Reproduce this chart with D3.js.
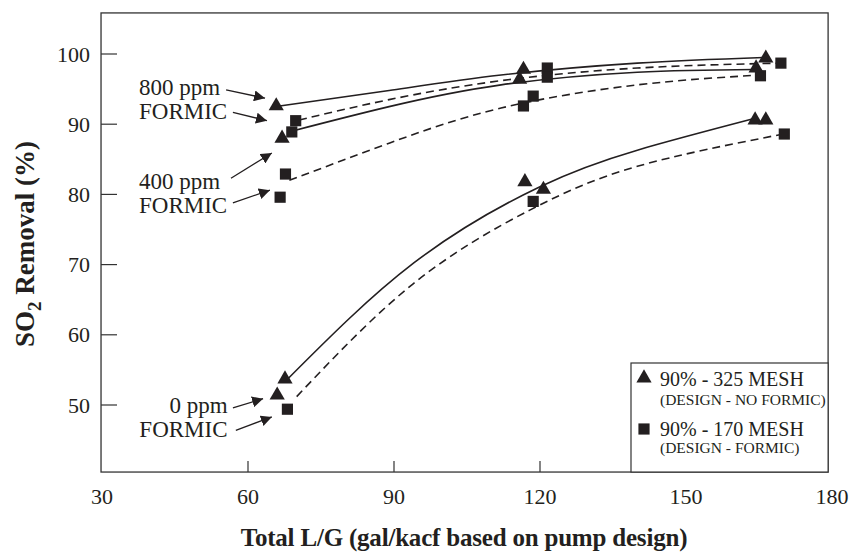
<!DOCTYPE html>
<html>
<head>
<meta charset="utf-8">
<script src="https://cdn.jsdelivr.net/npm/d3@7"></script>
<style>
  html, body { margin: 0; padding: 0; background: #fff; }
  svg text { font-family: "Liberation Serif", "DejaVu Serif", serif; fill: #231f20; }
</style>
</head>
<body>
<div id="chart"></div>
<script>
// SO2 removal vs total L/G - two mesh designs, three formic acid levels

const xTicks = [30, 60, 90, 120, 150, 180];
const yTicks = [50, 60, 70, 80, 90, 100];

// measured points, 90% - 325 MESH (triangles)
const triX = [65.8, 67.0, 67.6, 66.0, 116.6, 115.8, 116.9, 120.7, 166.4, 164.4, 164.2, 166.4];
const triY = [92.6, 88.0, 53.7, 51.4, 97.8, 96.4, 81.8, 80.7, 99.4, 98.0, 90.6, 90.6];

// measured points, 90% - 170 MESH (squares)
const sqX = [69.8, 69.0, 67.7, 66.6, 68.1, 121.5, 121.5, 118.6, 116.6, 118.6, 169.5, 165.3, 170.2];
const sqY = [90.5, 88.9, 82.9, 79.6, 49.4, 98.0, 96.7, 94.0, 92.6, 79.0, 98.7, 96.9, 88.6];

// fitted curves (solid = triangles, dashed = squares)
const fit800TriX = [66.5, 89, 112, 140, 166];
const fit800TriY = [92.6, 94.8, 97.0, 98.7, 99.5];
const fit800SqX = [70.5, 89, 112, 140, 169.5];
const fit800SqY = [90.6, 93.5, 96.2, 98.0, 98.7];
const fit400TriX = [69.5, 89, 112, 140, 164];
const fit400TriY = [89.1, 92.5, 95.6, 97.4, 97.8];
const fit400SqX = [68.5, 89, 112, 140, 165];
const fit400SqY = [82.0, 87.3, 92.3, 95.6, 97.0];
const fit0TriX = [68, 94, 120, 140, 164];
const fit0TriY = [53.6, 70.2, 81.1, 86.3, 90.8];
const fit0SqX = [70, 94, 118, 140, 170];
const fit0SqY = [51.2, 67.3, 77.8, 84.0, 88.6];

const legendMain = ["90% - 325 MESH", "90% - 170 MESH"];
const legendSub = ["(DESIGN - NO FORMIC)", "(DESIGN - FORMIC)"];

const labelLines = [["800 ppm", "FORMIC"], ["400 ppm", "FORMIC"], ["0 ppm", "FORMIC"]];

const width = 852, height = 553;
const ink = "#231f20";

const svg = d3.select("#chart").append("svg")
    .attr("width", width)
    .attr("height", height)
    .attr("viewBox", `0 0 ${width} ${height}`);

const x = d3.scaleLinear().domain([30, 180]).range([102, 832]);
const y = d3.scaleLinear().domain([50, 100]).range([405, 54]);

// frame limits in data units
const xLo = 29.8, xHi = 179.2, yLo = 40.45, yHi = 105.85;

svg.append("rect")
    .attr("x", x(xLo)).attr("y", y(yHi))
    .attr("width", x(xHi) - x(xLo)).attr("height", y(yLo) - y(yHi))
    .attr("fill", "none").attr("stroke", "#333").attr("stroke-width", 1.3);

// inward ticks
svg.append("g").selectAll("line")
    .data(xTicks.filter(d => d > 30 && d < xHi))
    .join("line")
    .attr("x1", d => x(d)).attr("x2", d => x(d))
    .attr("y1", y(yLo)).attr("y2", y(yLo) - 11)
    .attr("stroke", "#333").attr("stroke-width", 1.2);

svg.append("g").selectAll("line")
    .data(yTicks)
    .join("line")
    .attr("x1", x(xLo)).attr("x2", x(xLo) + 16)
    .attr("y1", d => y(d)).attr("y2", d => y(d))
    .attr("stroke", "#333").attr("stroke-width", 1.2);

svg.append("g").selectAll("text")
    .data(xTicks)
    .join("text")
    .attr("x", d => x(d))
    .attr("y", 504)
    .attr("text-anchor", "middle")
    .style("font-size", "22px")
    .text(d => d);

svg.append("g").selectAll("text")
    .data(yTicks)
    .join("text")
    .attr("x", 90)
    .attr("y", d => y(d) + 7.5)
    .attr("text-anchor", "end")
    .style("font-size", "22px")
    .text(d => d);

// axis titles
svg.append("text")
    .attr("x", 464).attr("y", 546)
    .attr("text-anchor", "middle")
    .style("font-size", "25px").style("font-weight", "bold")
    .style("letter-spacing", "-0.2px")
    .text("Total L/G (gal/kacf based on pump design)");

const yTitle = svg.append("text")
    .attr("transform", "translate(34,244) rotate(-90)")
    .attr("text-anchor", "middle")
    .style("font-size", "27px").style("font-weight", "bold");
yTitle.append("tspan").text("SO");
yTitle.append("tspan").attr("dy", 7).style("font-size", "19px").text("2");
yTitle.append("tspan").attr("dy", -7).text(" Removal (%)");

// fitted curves
const line = d3.line().x(d => x(d[0])).y(d => y(d[1])).curve(d3.curveNatural);
const fits = [
    { xs: fit800TriX, ys: fit800TriY, dash: null },
    { xs: fit800SqX, ys: fit800SqY, dash: "8,5" },
    { xs: fit400TriX, ys: fit400TriY, dash: null },
    { xs: fit400SqX, ys: fit400SqY, dash: "8,5" },
    { xs: fit0TriX, ys: fit0TriY, dash: null },
    { xs: fit0SqX, ys: fit0SqY, dash: "8,5" }
];
svg.append("g").selectAll("path")
    .data(fits)
    .join("path")
    .attr("d", f => line(d3.zip(f.xs, f.ys)))
    .attr("fill", "none")
    .attr("stroke", ink)
    .attr("stroke-width", 1.6)
    .attr("stroke-dasharray", f => f.dash);

// markers
const tri = d3.symbol().type(d3.symbolTriangle).size(100);
const sq = d3.symbol().type(d3.symbolSquare).size(125);

svg.append("g").selectAll("path")
    .data(d3.zip(sqX, sqY))
    .join("path")
    .attr("transform", d => `translate(${x(d[0])},${y(d[1])})`)
    .attr("d", sq)
    .attr("fill", ink);

svg.append("g").selectAll("path")
    .data(d3.zip(triX, triY))
    .join("path")
    .attr("transform", d => `translate(${x(d[0])},${y(d[1])})`)
    .attr("d", tri)
    .attr("fill", ink);

// annotations: text anchor in data units, arrows [from, to]
svg.append("defs").append("marker")
    .attr("id", "head")
    .attr("viewBox", "0 0 10 10")
    .attr("refX", 10).attr("refY", 5)
    .attr("markerWidth", 11).attr("markerHeight", 11)
    .attr("markerUnits", "userSpaceOnUse")
    .attr("orient", "auto")
    .append("path").attr("d", "M0,0 L10,5 L0,10 z").attr("fill", ink);

const notes = [
    { at: [37.6, 94.2], anchor: "start", arrows: [[[55.5, 94.9], [63.5, 93.7]], [[56.9, 91.7], [63.9, 90.5]]] },
    { at: [37.6, 80.8], anchor: "start", arrows: [[[56.5, 82.3], [64.9, 85.9]], [[56.9, 78.8], [64.5, 80.6]]] }
];
const notesEnd = { at: [55.8, 48.8], arrows: [[[56.9, 49.6], [63.1, 50.9]], [[57.5, 46.4], [64.9, 48.3]]] };

notes.forEach((n, i) => {
    const t = svg.append("text")
        .attr("x", x(n.at[0])).attr("y", y(n.at[1]))
        .attr("text-anchor", "start")
        .style("font-size", "23px");
    t.append("tspan").text(labelLines[i][0]);
    t.append("tspan").attr("x", x(n.at[0])).attr("dy", 24).text(labelLines[i][1]);
});
{
    const t = svg.append("text")
        .attr("x", x(notesEnd.at[0])).attr("y", y(notesEnd.at[1]))
        .attr("text-anchor", "end")
        .style("font-size", "23px");
    t.append("tspan").text(labelLines[2][0]);
    t.append("tspan").attr("x", x(notesEnd.at[0])).attr("dy", 24).text(labelLines[2][1]);
}

const arrows = notes.flatMap(n => n.arrows).concat(notesEnd.arrows);
svg.append("g").selectAll("line")
    .data(arrows)
    .join("line")
    .attr("x1", d => x(d[0][0])).attr("y1", d => y(d[0][1]))
    .attr("x2", d => x(d[1][0])).attr("y2", d => y(d[1][1]))
    .attr("stroke", ink).attr("stroke-width", 1.3)
    .attr("marker-end", "url(#head)");

// legend box sits on the bottom-right corner of the frame
const lg = svg.append("g");
lg.append("rect")
    .attr("x", 631).attr("y", 363)
    .attr("width", x(xHi) - 631).attr("height", y(yLo) - 363)
    .attr("fill", "#fff").attr("stroke", "#333").attr("stroke-width", 1.2);
[tri, sq].forEach((sym, i) => {
    const top = 386 + i * 50;
    lg.append("path")
        .attr("transform", `translate(644,${top - 8 + (i ? 1 : 0)})`)
        .attr("d", sym).attr("fill", ink);
    lg.append("text").attr("x", 660).attr("y", top)
        .style("font-size", "20px").text(legendMain[i]);
    lg.append("text").attr("x", 660).attr("y", top + 19 - (i ? 2 : 0))
        .style("font-size", "15.5px").text(legendSub[i]);
});
</script>
</body>
</html>
